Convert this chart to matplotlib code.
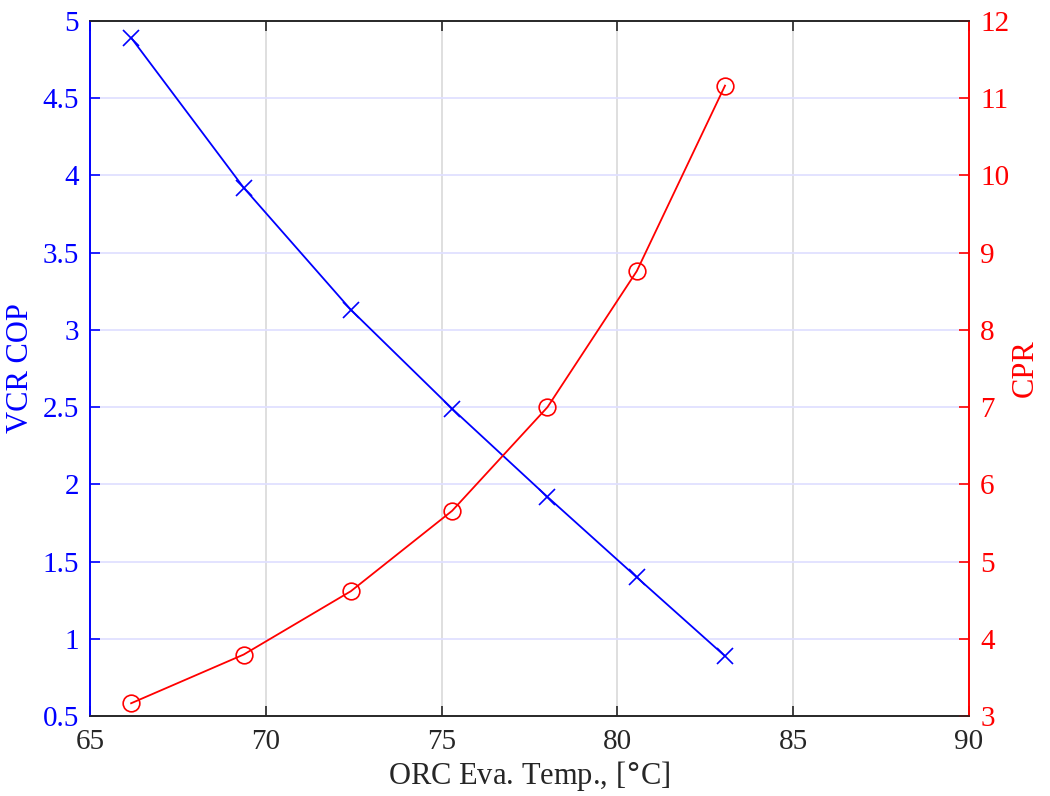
import matplotlib.pyplot as plt

plt.rcParams['font.family'] = ['Liberation Serif', 'DejaVu Serif']

# data
temp = [66.17, 69.37, 72.42, 75.30, 78.01, 80.55, 83.06]
cop = [4.89, 3.92, 3.13, 2.49, 1.92, 1.40, 0.89]
cpr = [3.17, 3.80, 4.62, 5.66, 7.00, 8.76, 11.16]

fig = plt.figure(figsize=(10.5, 7.96), dpi=100)
ax = fig.add_axes([0.0857, 0.100, 0.8372, 0.874])
ax2 = ax.twinx()

# grid: vertical gray, horizontal light blue (left axis)
for xv in range(70, 90, 5):
    ax.axvline(xv, color='#dcdcdc', lw=1.3, zorder=0)
for yv in [1, 1.5, 2, 2.5, 3, 3.5, 4, 4.5]:
    ax.axhline(yv, color='#e0e0ff', lw=1.3, zorder=0)

ax.plot(temp, cop, color='blue', marker='x', ms=11, mew=1.2, lw=1.3, zorder=3)
ax2.plot(temp, cpr, color='red', marker='o', ms=12, mfc='none', mew=1.2, lw=1.3, zorder=3)

ax.set_xlim(65, 90)
ax.set_ylim(0.5, 5)
ax2.set_ylim(3, 12)
ax.set_xticks(range(65, 91, 5))
ax.set_yticks([0.5, 1, 1.5, 2, 2.5, 3, 3.5, 4, 4.5, 5])
ax.set_yticklabels(['0.5', '1', '1.5', '2', '2.5', '3', '3.5', '4', '4.5', '5'])
ax2.set_yticks(range(3, 13))

ax.tick_params(axis='x', direction='in', length=7, width=1.2, colors='#262626',
               labelsize=21, pad=9, top=True)
ax.tick_params(axis='y', direction='in', length=7, width=1.2, colors='blue',
               labelsize=21, pad=8)
ax2.tick_params(axis='y', direction='in', length=7, width=1.2, colors='red',
                labelsize=21, pad=8)

for a in (ax, ax2):
    a.spines['top'].set_color('#262626')
    a.spines['bottom'].set_color('#262626')
    a.spines['left'].set_color('blue')
    a.spines['right'].set_color('red')
    for s in a.spines.values():
        s.set_linewidth(1.2)

ax.set_xlabel('ORC Eva. Temp., [$\\degree$C]', fontsize=22, color='#262626', labelpad=3)
ax.set_ylabel('VCR COP', fontsize=22, color='blue', labelpad=5)
ax2.set_ylabel('CPR', fontsize=22, color='red', labelpad=1)

fig.savefig('out.png', dpi=100)
